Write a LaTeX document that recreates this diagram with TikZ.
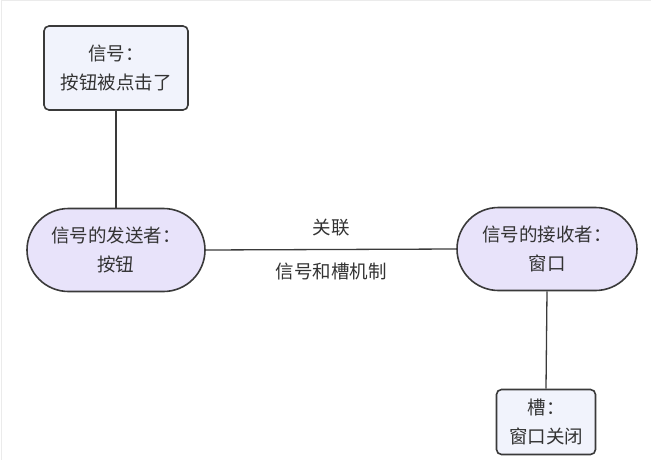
\documentclass[tikz,border=0pt]{standalone}
\usepackage{fontspec}
\setmainfont{Noto Sans CJK SC}
\usetikzlibrary{shapes.misc}
\usetikzlibrary{positioning}

\definecolor{edgegray}{HTML}{3A3A3A}
\definecolor{textgray}{HTML}{333333}
\definecolor{boxfill}{HTML}{F1F3FC}
\definecolor{pillfill}{HTML}{E8E3FA}

\tikzset{
	infobox/.style={draw=edgegray,fill=boxfill,line width=1.6pt,rounded corners=5pt,
		align=center,text=textgray,inner sep=0pt},
	pill/.style={draw=edgegray,fill=pillfill,line width=1.6pt,rounded rectangle,
		align=center,text=textgray,inner sep=0pt},
	link/.style={draw=edgegray,line width=1.3pt}
}

\begin{document}
\begin{tikzpicture}[x=1pt,y=-1pt,font=\fontsize{18.5}{29}\selectfont]
	\useasboundingbox (0,0) rectangle (651,460);
	\draw[black!8,line width=1pt] (1,460) -- (1,1) -- (651,1);
	
	% nodes
	\node[infobox,minimum width=144pt,minimum height=84pt] (signal) at (116,68) {信号：\\按钮被点击了};
	\node[pill,minimum width=178pt,minimum height=83pt] (sender) at (116,250) {信号的发送者：\\按钮};
	\node[pill,minimum width=180pt,minimum height=83pt] (receiver) at (547,249) {信号的接收者：\\窗口};
	\node[infobox,minimum width=99pt,minimum height=65pt] (slot) at (546,422) {槽：\\窗口关闭};
	
	% connectors
	\draw[link] (signal) -- (sender);
	\draw[link] (sender.east) -- node[above=9pt,text=textgray] (assoc) {关联}
		node[below=9pt,text=textgray] (mech) {信号和槽机制} (receiver.west);
	\draw[link] (receiver.south) -- (slot.north);
\end{tikzpicture}
\end{document}
